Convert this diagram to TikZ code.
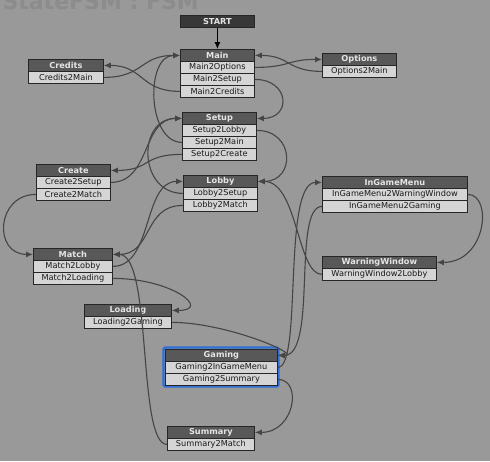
\documentclass[tikz,border=0pt]{standalone}
\usepackage{fontspec}
\setmainfont{DejaVu Sans}
\usetikzlibrary{arrows.meta}

\definecolor{canvas}{HTML}{999999}
\definecolor{headfill}{HTML}{585858}
\definecolor{rowfill}{HTML}{D5D5D5}
\definecolor{frame}{HTML}{262626}
\definecolor{wire}{HTML}{454545}
\definecolor{select}{HTML}{2F6FD8}

\begin{document}
\begin{tikzpicture}[x=1pt, y=-1pt]
  \tikzstyle{head}=[draw=frame, line width=0.8pt, fill=headfill, text=white!90!black,
    font=\bfseries\fontsize{8.2}{9}\selectfont, minimum height=12pt, inner sep=0pt, anchor=north west]
  \tikzstyle{row}=[head, fill=rowfill, text=black!90, font=\fontsize{8.2}{9}\selectfont]
  \tikzstyle{link}=[wire, line width=1.1pt, -{Latex[length=7pt,width=6pt]}]

  \fill[canvas] (0,0) rectangle (490,461);
  \useasboundingbox (0,0) rectangle (490,461);
  \node[anchor=base west, text=black!45, font=\bfseries\fontsize{22}{24}\selectfont] (title) at (-1,9) {StateFSM : FSM};

  % selection frame
  \draw[select, line width=2.4pt, rounded corners=1.5pt] (163.5,347.5) rectangle (278.5,386.5);

  \node[head, fill=black!78, minimum width=74pt] (start) at (180, 15) {START};

  \node[head, minimum width=74pt] (main)     at (180, 49) {Main};
  \node[row,  minimum width=74pt] (main2opt) at (180, 61) {Main2Options};
  \node[row,  minimum width=74pt] (main2set) at (180, 73) {Main2Setup};
  \node[row,  minimum width=74pt] (main2cre) at (180, 85) {Main2Credits};

  \node[head, minimum width=75pt] (credits)  at (28, 59) {Credits};
  \node[row,  minimum width=75pt] (cre2main) at (28, 71) {Credits2Main};

  \node[head, minimum width=74pt] (options)  at (322, 53) {Options};
  \node[row,  minimum width=74pt] (opt2main) at (322, 65) {Options2Main};

  \node[head, minimum width=74pt] (setup)    at (182, 112) {Setup};
  \node[row,  minimum width=74pt] (set2lob)  at (182, 124) {Setup2Lobby};
  \node[row,  minimum width=74pt] (set2main) at (182, 136) {Setup2Main};
  \node[row,  minimum width=74pt] (set2crt)  at (182, 148) {Setup2Create};

  \node[head, minimum width=74pt] (lobby)    at (183, 175) {Lobby};
  \node[row,  minimum width=74pt] (lob2set)  at (183, 187) {Lobby2Setup};
  \node[row,  minimum width=74pt] (lob2mat)  at (183, 199) {Lobby2Match};

  \node[head, minimum width=74pt] (create)   at (36, 164) {Create};
  \node[row,  minimum width=74pt] (crt2set)  at (36, 176) {Create2Setup};
  \node[row,  minimum width=74pt] (crt2mat)  at (36, 188) {Create2Match};

  \node[head, minimum width=145pt] (ingame)  at (322, 176) {InGameMenu};
  \node[row,  minimum width=145pt] (igm2ww)  at (322, 188) {InGameMenu2WarningWindow};
  \node[row,  minimum width=145pt] (igm2gam) at (322, 200) {InGameMenu2Gaming};

  \node[head, minimum width=114pt] (warning) at (322, 256) {WarningWindow};
  \node[row,  minimum width=114pt] (ww2lob)  at (322, 268) {WarningWindow2Lobby};

  \node[head, minimum width=79pt] (match)    at (33, 248) {Match};
  \node[row,  minimum width=79pt] (mat2lob)  at (33, 260) {Match2Lobby};
  \node[row,  minimum width=79pt] (mat2load) at (33, 272) {Match2Loading};

  \node[head, minimum width=87pt] (loading)  at (84, 304) {Loading};
  \node[row,  minimum width=87pt] (load2gam) at (84, 316) {Loading2Gaming};

  \node[head, minimum width=112pt] (gaming)  at (165, 349) {Gaming};
  \node[row,  minimum width=112pt] (gam2igm) at (165, 361) {Gaming2InGameMenu};
  \node[row,  minimum width=112pt] (gam2sum) at (165, 373) {Gaming2Summary};

  \node[head, minimum width=87pt] (summary)  at (167, 426) {Summary};
  \node[row,  minimum width=87pt] (sum2mat)  at (167, 438) {Summary2Match};

  \draw[-{Latex[length=7pt,width=6pt]}, black, line width=1.1pt] (start) -- (main);

  \draw[link] (main2opt.east) .. controls +(35,0) and +(-35,0) .. (options.west);
  \draw[link] (opt2main.west) .. controls +(-35,0) and +(35,0) .. (main.east);
  \draw[link] (main2set.east) .. controls +(35,0) and +(35,0) .. (setup.east);
  \draw[link] (main2cre.west) .. controls +(-40,0) and +(40,0) .. (credits.east);
  \draw[link] (cre2main.east) .. controls +(40,0) and +(-40,0) .. (main.west);

  \draw[link] (set2main.west) .. controls +(-35,0) and +(-35,0) .. (main.west);
  \draw[link] (set2lob.east)  .. controls +(38,0) and +(38,0) .. (lobby.east);
  \draw[link] (set2crt.west)  .. controls +(-40,0) and +(40,0) .. (create.east);

  \draw[link] (crt2set.east)  .. controls +(40,0) and +(-40,0) .. (setup.west);
  \draw[link] (crt2mat.west)  .. controls +(-40,0) and +(-40,0) .. (match.west);

  \draw[link] (lob2set.west)  .. controls +(-45,0) and +(-45,0) .. (setup.west);
  \draw[link] (lob2mat.west)  .. controls +(-40,0) and +(40,0) .. (match.east);

  \draw[link] (mat2lob.east)  .. controls +(40,0) and +(-40,0) .. (lobby.west);
  \draw[link] (mat2load.east) .. controls +(60,0) and +(40,0) .. (loading.east);

  \draw[link] (load2gam.east) .. controls +(55,0) and +(25,0) .. (gaming.east);

  \draw[link] (gam2igm.east)  .. controls +(25,0) and +(-40,0) .. (ingame.west);
  \draw[link] (gam2sum.east)  .. controls +(25,0) and +(40,0) .. (summary.east);

  \draw[link] (igm2gam.west)  .. controls +(-30,0) and +(40,0) .. (gaming.east);
  \draw[link] (igm2ww.east)   .. controls +(25,0) and +(50,0) .. (warning.east);

  \draw[link] (ww2lob.west)   .. controls +(-25,0) and +(40,0) .. (lobby.east);

  \draw[link] (sum2mat.west)  .. controls +(-30,0) and +(40,0) .. (match.east);

\end{tikzpicture}
\end{document}
